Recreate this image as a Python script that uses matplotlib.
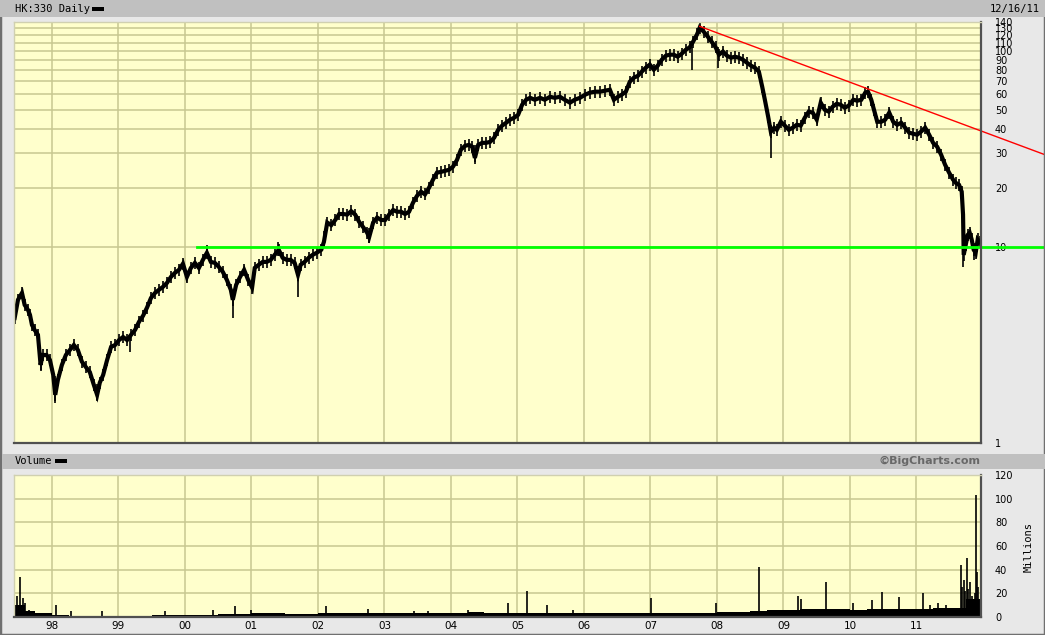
"""
HK:330 daily price + volume chart, BigCharts style
"""
import matplotlib
matplotlib.use('Agg')
import matplotlib.pyplot as plt
import matplotlib.patches as mpatches

# price path (decimal year, price)
price_dates = [
    1997.44, 1997.49, 1997.55, 1997.59, 1997.64, 1997.67, 1997.70, 1997.74, 1997.79, 1997.83,
    1997.86, 1997.92, 1997.97, 1998.02, 1998.05, 1998.09, 1998.15, 1998.21, 1998.27, 1998.33,
    1998.39, 1998.45, 1998.51, 1998.57, 1998.63, 1998.68, 1998.72, 1998.77, 1998.83, 1998.89,
    1998.95, 1999.01, 1999.07, 1999.13, 1999.19, 1999.25, 1999.31, 1999.37, 1999.43, 1999.49,
    1999.55, 1999.61, 1999.67, 1999.73, 1999.79, 1999.85, 1999.91, 1999.97, 2000.03, 2000.09,
    2000.15, 2000.21, 2000.27, 2000.33, 2000.39, 2000.45, 2000.51, 2000.57, 2000.63, 2000.69,
    2000.72, 2000.77, 2000.83, 2000.89, 2000.95, 2001.01, 2001.05, 2001.11, 2001.17, 2001.23,
    2001.29, 2001.35, 2001.41, 2001.47, 2001.53, 2001.59, 2001.65, 2001.70, 2001.74, 2001.80,
    2001.86, 2001.92, 2001.98, 2002.05, 2002.09, 2002.14, 2002.20, 2002.26, 2002.32, 2002.38,
    2002.44, 2002.50, 2002.56, 2002.62, 2002.68, 2002.74, 2002.77, 2002.83, 2002.89, 2002.95,
    2003.01, 2003.07, 2003.13, 2003.19, 2003.25, 2003.31, 2003.37, 2003.43, 2003.49, 2003.55,
    2003.61, 2003.67, 2003.73, 2003.79, 2003.85, 2003.91, 2003.97, 2004.03, 2004.09, 2004.15,
    2004.21, 2004.27, 2004.32, 2004.36, 2004.41, 2004.47, 2004.53, 2004.59, 2004.65, 2004.71,
    2004.77, 2004.83, 2004.89, 2004.95, 2005.01, 2005.07, 2005.13, 2005.19, 2005.26, 2005.34,
    2005.41, 2005.49, 2005.56, 2005.64, 2005.71, 2005.79, 2005.86, 2005.94, 2006.02, 2006.09,
    2006.17, 2006.24, 2006.32, 2006.39, 2006.45, 2006.51, 2006.57, 2006.63, 2006.69, 2006.75,
    2006.81, 2006.87, 2006.93, 2006.99, 2007.05, 2007.11, 2007.17, 2007.23, 2007.29, 2007.35,
    2007.41, 2007.47, 2007.53, 2007.59, 2007.64, 2007.70, 2007.74, 2007.80, 2007.86, 2007.92,
    2007.98, 2008.03, 2008.09, 2008.15, 2008.21, 2008.27, 2008.33, 2008.39, 2008.45, 2008.51,
    2008.57, 2008.63, 2008.68, 2008.72, 2008.77, 2008.81, 2008.86, 2008.90, 2008.96, 2009.02,
    2009.08, 2009.14, 2009.20, 2009.26, 2009.32, 2009.38, 2009.44, 2009.50, 2009.56, 2009.62,
    2009.68, 2009.74, 2009.80, 2009.86, 2009.92, 2009.98, 2010.05, 2010.11, 2010.17, 2010.23,
    2010.27, 2010.32, 2010.36, 2010.41, 2010.47, 2010.53, 2010.59, 2010.65, 2010.71, 2010.77,
    2010.83, 2010.89, 2010.95, 2011.01, 2011.07, 2011.13, 2011.19, 2011.25, 2011.31, 2011.37,
    2011.43, 2011.49, 2011.55, 2011.59, 2011.64, 2011.68, 2011.70, 2011.71, 2011.74, 2011.77,
    2011.80, 2011.83, 2011.86, 2011.89, 2011.92, 2011.95,
]
price_values = [
    4.34, 5.37, 5.82, 5.06, 4.77, 4.50, 4.00, 3.77, 3.56, 2.50,
    2.81, 2.81, 2.65, 2.22, 1.76, 2.10, 2.50, 2.81, 2.98, 3.16,
    2.98, 2.60, 2.44, 2.30, 1.98, 1.76, 2.03, 2.22, 2.65, 3.09,
    3.16, 3.35, 3.47, 3.35, 3.56, 3.77, 4.15, 4.45, 4.90, 5.49,
    5.82, 6.04, 6.25, 6.55, 7.03, 7.37, 7.63, 8.20, 7.03, 7.81,
    8.28, 7.81, 8.58, 9.32, 8.38, 8.28, 7.90, 7.45, 6.79, 6.04,
    5.37, 6.40, 7.03, 7.63, 6.79, 6.20, 7.81, 8.10, 8.38, 8.38,
    8.58, 9.10, 9.66, 8.79, 8.58, 8.58, 8.28, 7.20, 8.10, 8.38,
    8.79, 9.10, 9.32, 9.66, 10.6, 13.3, 12.9, 13.7, 14.7, 14.7,
    14.6, 15.2, 14.6, 13.4, 12.6, 11.8, 11.2, 13.3, 14.1, 13.7,
    13.7, 14.6, 15.4, 15.1, 15.1, 14.7, 15.1, 16.8, 18.2, 19.1,
    18.5, 20.0, 22.0, 23.9, 24.1, 24.4, 24.7, 25.6, 27.7, 31.3,
    32.7, 33.1, 32.4, 28.4, 33.1, 33.9, 33.9, 34.3, 36.0, 39.5,
    41.5, 42.9, 44.5, 45.5, 47.1, 53.0, 56.2, 57.5, 56.2, 57.5,
    56.2, 58.2, 57.5, 58.2, 56.2, 54.3, 56.2, 57.5, 59.7, 61.1,
    61.8, 61.8, 62.5, 63.2, 56.2, 58.2, 59.7, 61.8, 69.5, 72.8,
    74.4, 78.2, 81.9, 84.9, 80.0, 83.9, 89.9, 94.2, 95.4, 95.4,
    93.1, 96.5, 101, 104, 111, 121, 131, 125, 118, 111,
    104, 95.4, 99.0, 94.2, 92.1, 93.1, 92.1, 89.9, 86.9, 83.9,
    81.9, 78.2, 65.5, 56.2, 46.0, 38.6, 40.5, 39.5, 43.4, 41.5,
    39.5, 40.5, 41.9, 41.5, 45.5, 48.9, 48.3, 44.5, 54.3, 50.0,
    48.9, 51.8, 53.6, 53.0, 51.2, 52.4, 56.2, 55.6, 56.2, 61.1,
    61.8, 56.2, 50.0, 43.4, 43.4, 44.5, 48.3, 43.4, 41.9, 42.9,
    40.5, 38.2, 37.7, 37.3, 38.7, 40.5, 37.3, 33.9, 32.4, 29.5,
    26.2, 23.9, 22.0, 21.2, 20.7, 19.1, 14.6, 9.1, 10.2, 11.5,
    11.8, 10.9, 9.66, 9.32, 10.9, 10.6,
]

# isolated long daily bars (date, low, high)
spike_dates = [1997.83, 1998.05, 1998.68, 1999.17, 2000.33, 2000.72, 2001.40, 2001.70,
               2002.09, 2002.77, 2004.36, 2007.62, 2008.01, 2008.81, 2011.70, 2011.86]
spike_lows = [2.36, 1.60, 1.66, 2.91, 9.3, 4.34, 9.0, 5.56,
              10.0, 10.5, 27.0, 80.0, 82.0, 28.4, 7.9, 8.6]
spike_highs = [2.80, 2.20, 2.00, 3.50, 10.2, 6.00, 10.6, 8.00,
               12.0, 12.5, 33.0, 104, 104, 42.0, 16.0, 10.5]

# trend lines drawn on the chart
trend_dates = [2007.74, 2012.93]
trend_prices = [133, 29.5]
support_dates = [2000.18, 2012.93]
support_prices = [10, 10]

# volume (millions): block levels per period + single day spikes
vol_block_starts = [1997.43, 1997.60, 1997.75] + [y + q / 4 for y in range(1998, 2012) for q in range(4)]
vol_block_values = [
    10, 5, 3,
    1.5, 1.2, 1.0, 1.0,
    1.0, 1.2, 1.5, 1.8,
    2.0, 2.0, 2.2, 2.5,
    3.0, 3.0, 2.5, 2.5,
    3.5, 3.0, 3.0, 3.0,
    3.0, 3.0, 3.5, 3.5,
    3.5, 4.0, 3.5, 3.5,
    3.5, 3.0, 3.0, 3.0,
    3.0, 3.0, 3.5, 3.5,
    3.0, 3.0, 3.0, 3.0,
    4.0, 4.5, 5.0, 6.0,
    6.0, 6.5, 7.0, 6.5,
    6.0, 6.5, 7.0, 7.0,
    7.0, 8.0, 8.0, 15.0,
]
vol_spike_dates = [1997.47, 1997.52, 1997.56, 1997.60, 1997.65, 1998.06, 1998.29, 1998.76,
                   1999.70, 2000.42, 2000.75, 2001.00, 2002.12, 2002.75, 2003.45, 2003.65,
                   2004.25, 2004.86, 2005.14, 2005.44, 2005.83, 2007.01, 2007.98, 2008.63,
                   2009.22, 2009.27, 2009.64, 2010.05, 2010.33, 2010.48, 2010.74, 2011.10,
                   2011.20, 2011.32, 2011.45, 2011.67, 2011.69, 2011.71, 2011.73, 2011.76,
                   2011.78, 2011.80, 2011.83, 2011.85, 2011.88, 2011.89, 2011.91, 2011.93,
                   2011.95]
vol_spike_values = [18, 34, 16, 12, 6, 10, 5, 5,
                    5, 6, 9, 6, 9, 7, 5, 5,
                    6, 12, 22, 10, 6, 16, 12, 42,
                    18, 15, 30, 12, 14, 21, 17, 20,
                    10, 12, 10, 44, 25, 31, 22, 50,
                    24, 30, 18, 15, 20, 103, 38, 25,
                    12]

price_ticks = [1, 10, 20, 30, 40, 50, 60, 70, 80, 90, 100, 110, 120, 130, 140]
vol_ticks = [0, 20, 40, 60, 80, 100, 120]
year_ticks = list(range(1998, 2012))
year_labels = ['98', '99', '00', '01', '02', '03', '04', '05', '06', '07', '08', '09', '10', '11']

X_START, X_END = 1997.43, 2011.97

BG = '#e8e8e8'
BAR = '#c0c0c0'
PLOT_BG = '#ffffcc'
GRID = '#c8c890'


def px(x, y, w, h):
    """pixel box (top-left origin) -> figure fraction rect"""
    W, H = 1045.0, 635.0
    return [x / W, 1 - (y + h) / H, w / W, h / H]


def add_box(fig, x, y, w, h, color):
    r = px(x, y, w, h)
    fig.patches.append(mpatches.Rectangle(r[:2], r[2], r[3], transform=fig.transFigure,
                                          facecolor=color, edgecolor='none'))


def style_axes(ax):
    ax.set_facecolor(PLOT_BG)
    for side in ['top', 'left']:
        ax.spines[side].set_color('#d0d0b0')
        ax.spines[side].set_linewidth(1)
    for side in ['right', 'bottom']:
        ax.spines[side].set_color('#505050')
        ax.spines[side].set_linewidth(1.6)
    ax.set_xlim(X_START, X_END)
    ax.set_xticks(year_ticks)
    ax.grid(True, color=GRID, linewidth=1.1)
    ax.set_axisbelow(True)
    ax.yaxis.tick_right()
    ax.tick_params(axis='both', length=0, labelsize=7, colors='black')
    ax.tick_params(axis='y', pad=10)
    ax.tick_params(axis='x', pad=3, labelsize=7.5)


def main():
    fig = plt.figure(figsize=(10.45, 6.35), dpi=100, facecolor=BG)

    # header bars and outer frame
    fig.patches.append(mpatches.Rectangle((0, 0), 1, 1, transform=fig.transFigure,
                                          facecolor='none', edgecolor='#707070', linewidth=2.5))
    add_box(fig, 0, 0, 1045, 17, BAR)
    add_box(fig, 2, 454, 1043, 15, BAR)
    add_box(fig, 92, 7, 12, 4, 'black')
    add_box(fig, 55, 459, 12, 4, 'black')

    mono = 'DejaVu Sans Mono'
    fig.text(15 / 1045, 1 - 9 / 635, 'HK:330 Daily', family=mono, fontsize=7.5, va='center')
    fig.text(1040 / 1045, 1 - 9 / 635, '12/16/11', family=mono, fontsize=7.5, va='center', ha='right')
    fig.text(15 / 1045, 1 - 461 / 635, 'Volume', family=mono, fontsize=7.5, va='center')
    fig.text(981 / 1045, 1 - 461 / 635, '\u00a9BigCharts.com', fontsize=8, fontweight='bold',
             color='#686868', va='center', ha='right')
    fig.text(1029 / 1045, 1 - 547 / 635, 'Millions', family=mono, fontsize=7.5, rotation=90,
             va='center', ha='center')

    # price panel
    ax = fig.add_axes(px(14, 22, 967, 421))
    style_axes(ax)
    ax.set_yscale('log')
    ax.set_ylim(1, 140)
    ax.set_yticks(price_ticks)
    ax.set_yticklabels([str(t) for t in price_ticks])
    ax.yaxis.set_minor_locator(matplotlib.ticker.NullLocator())
    ax.set_xticklabels([])

    ax.plot(price_dates, price_values, color='black', linewidth=3.0, solid_joinstyle='miter')
    ax.plot(price_dates, price_values, color='black', linestyle='none', marker='|',
            markersize=8, markeredgewidth=1.2)
    ax.vlines(spike_dates, spike_lows, spike_highs, color='black', linewidth=1.2)

    ax.plot(trend_dates, trend_prices, color='#ff0000', linewidth=1, clip_on=False)
    ax.plot(support_dates, support_prices, color='#00ff00', linewidth=2, clip_on=False)

    # volume panel
    vax = fig.add_axes(px(14, 475, 967, 142))
    style_axes(vax)
    vax.set_ylim(0, 120)
    vax.set_yticks(vol_ticks)
    vax.set_xticklabels(year_labels)

    vx = vol_block_starts + [X_END]
    vy = vol_block_values + [vol_block_values[-1]]
    vax.fill_between(vx, 0, vy, step='post', color='black', linewidth=0)
    vax.vlines(vol_spike_dates, 0, vol_spike_values, color='black', linewidth=1.2)

    plt.savefig('out.png', dpi=100, facecolor=BG)
    plt.close()


if __name__ == "__main__":
    main()
